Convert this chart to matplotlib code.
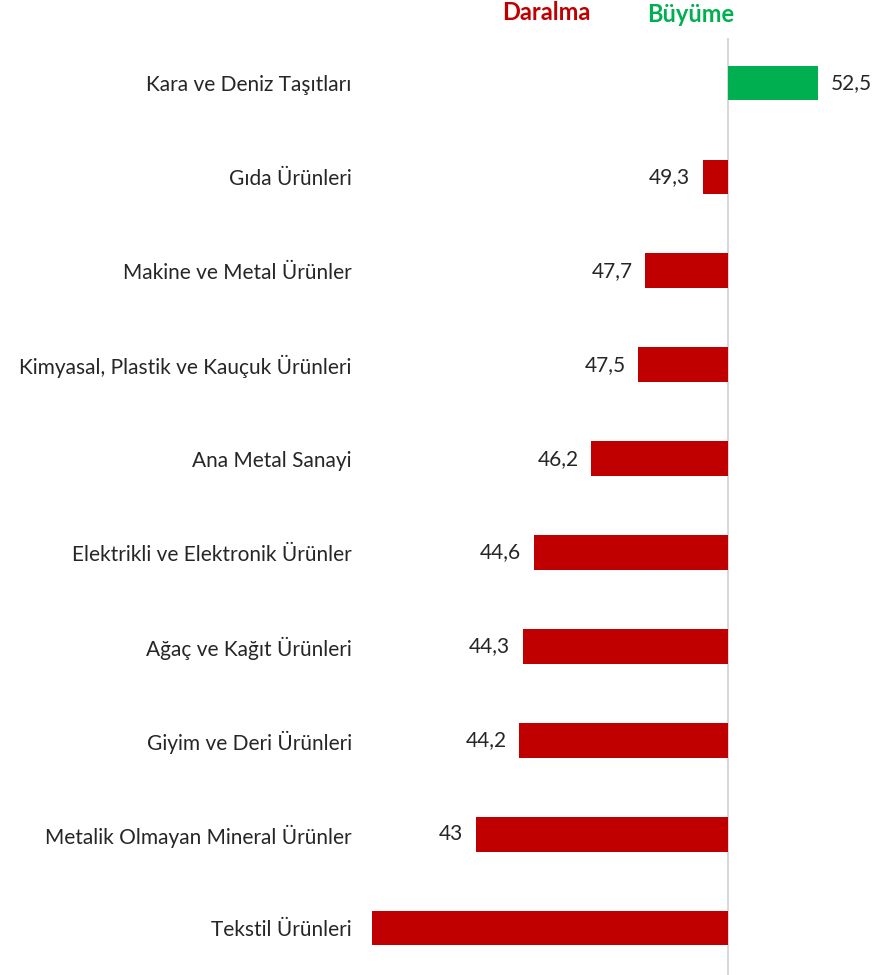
import matplotlib
matplotlib.use("Agg")
import matplotlib.pyplot as plt

categories = ["Kara ve Deniz Taşıtları", "Gıda Ürünleri", "Makine ve Metal Ürünler",
              "Kimyasal, Plastik ve Kauçuk Ürünleri", "Ana Metal Sanayi",
              "Elektrikli ve Elektronik Ürünler", "Ağaç ve Kağıt Ürünleri",
              "Giyim ve Deri Ürünleri", "Metalik Olmayan Mineral Ürünler", "Tekstil Ürünleri"]
values = [52.5, 49.3, 47.7, 47.5, 46.2, 44.6, 44.3, 44.2, 43.0, 40.1]
value_labels = ["52,5", "49,3", "47,7", "47,5", "46,2", "44,6", "44,3", "44,2", "43", ""]
baseline = 50

RED = "#C00000"
GREEN = "#00B050"
plt.rcParams['font.family'] = ['Lato', 'DejaVu Sans']

W, H = 882, 975
fig = plt.figure(figsize=(W / 100, H / 100), dpi=100)
ax_left, ax_right, ax_top, ax_bottom = 360, 882, 38, 975
ax = fig.add_axes([ax_left / W, 1 - ax_bottom / H, (ax_right - ax_left) / W, (ax_bottom - ax_top) / H])

ppu = 36.0
ax.set_xlim(baseline - (728 - ax_left) / ppu, baseline + (ax_right - 728) / ppu)
ax.set_ylim(9.5, -0.48)

ypos = list(range(len(categories)))
colors = [GREEN if v >= baseline else RED for v in values]
ax.barh(ypos, [v - baseline for v in values], left=baseline, height=0.37, color=colors)
ax.axvline(baseline, color="#D9D9D9", lw=1.5, zorder=0)

for y, v, lab in zip(ypos, values, value_labels):
    if not lab:
        continue
    if v >= baseline:
        ax.annotate(lab, (v, y), xytext=(9, 0), textcoords="offset points",
                    ha="left", va="center", fontsize=15, color="#262626", annotation_clip=False)
    else:
        ax.annotate(lab, (v, y), xytext=(-9, 0), textcoords="offset points",
                    ha="right", va="center", fontsize=15, color="#262626")

ax.set_yticks(ypos)
ax.set_yticklabels(categories, fontsize=15, color="#262626")
ax.tick_params(axis="y", length=0, pad=6)
ax.set_xticks([])
for s in ax.spines.values():
    s.set_visible(False)

fig.text(546 / W, 1 - 12 / H, "Daralma", color=RED, fontsize=17, fontweight="bold", ha="center", va="center")
fig.text(691 / W, 1 - 15 / H, "Büyüme", color=GREEN, fontsize=17, fontweight="bold", ha="center", va="center")

fig.savefig("out.png", dpi=100, facecolor="white")
